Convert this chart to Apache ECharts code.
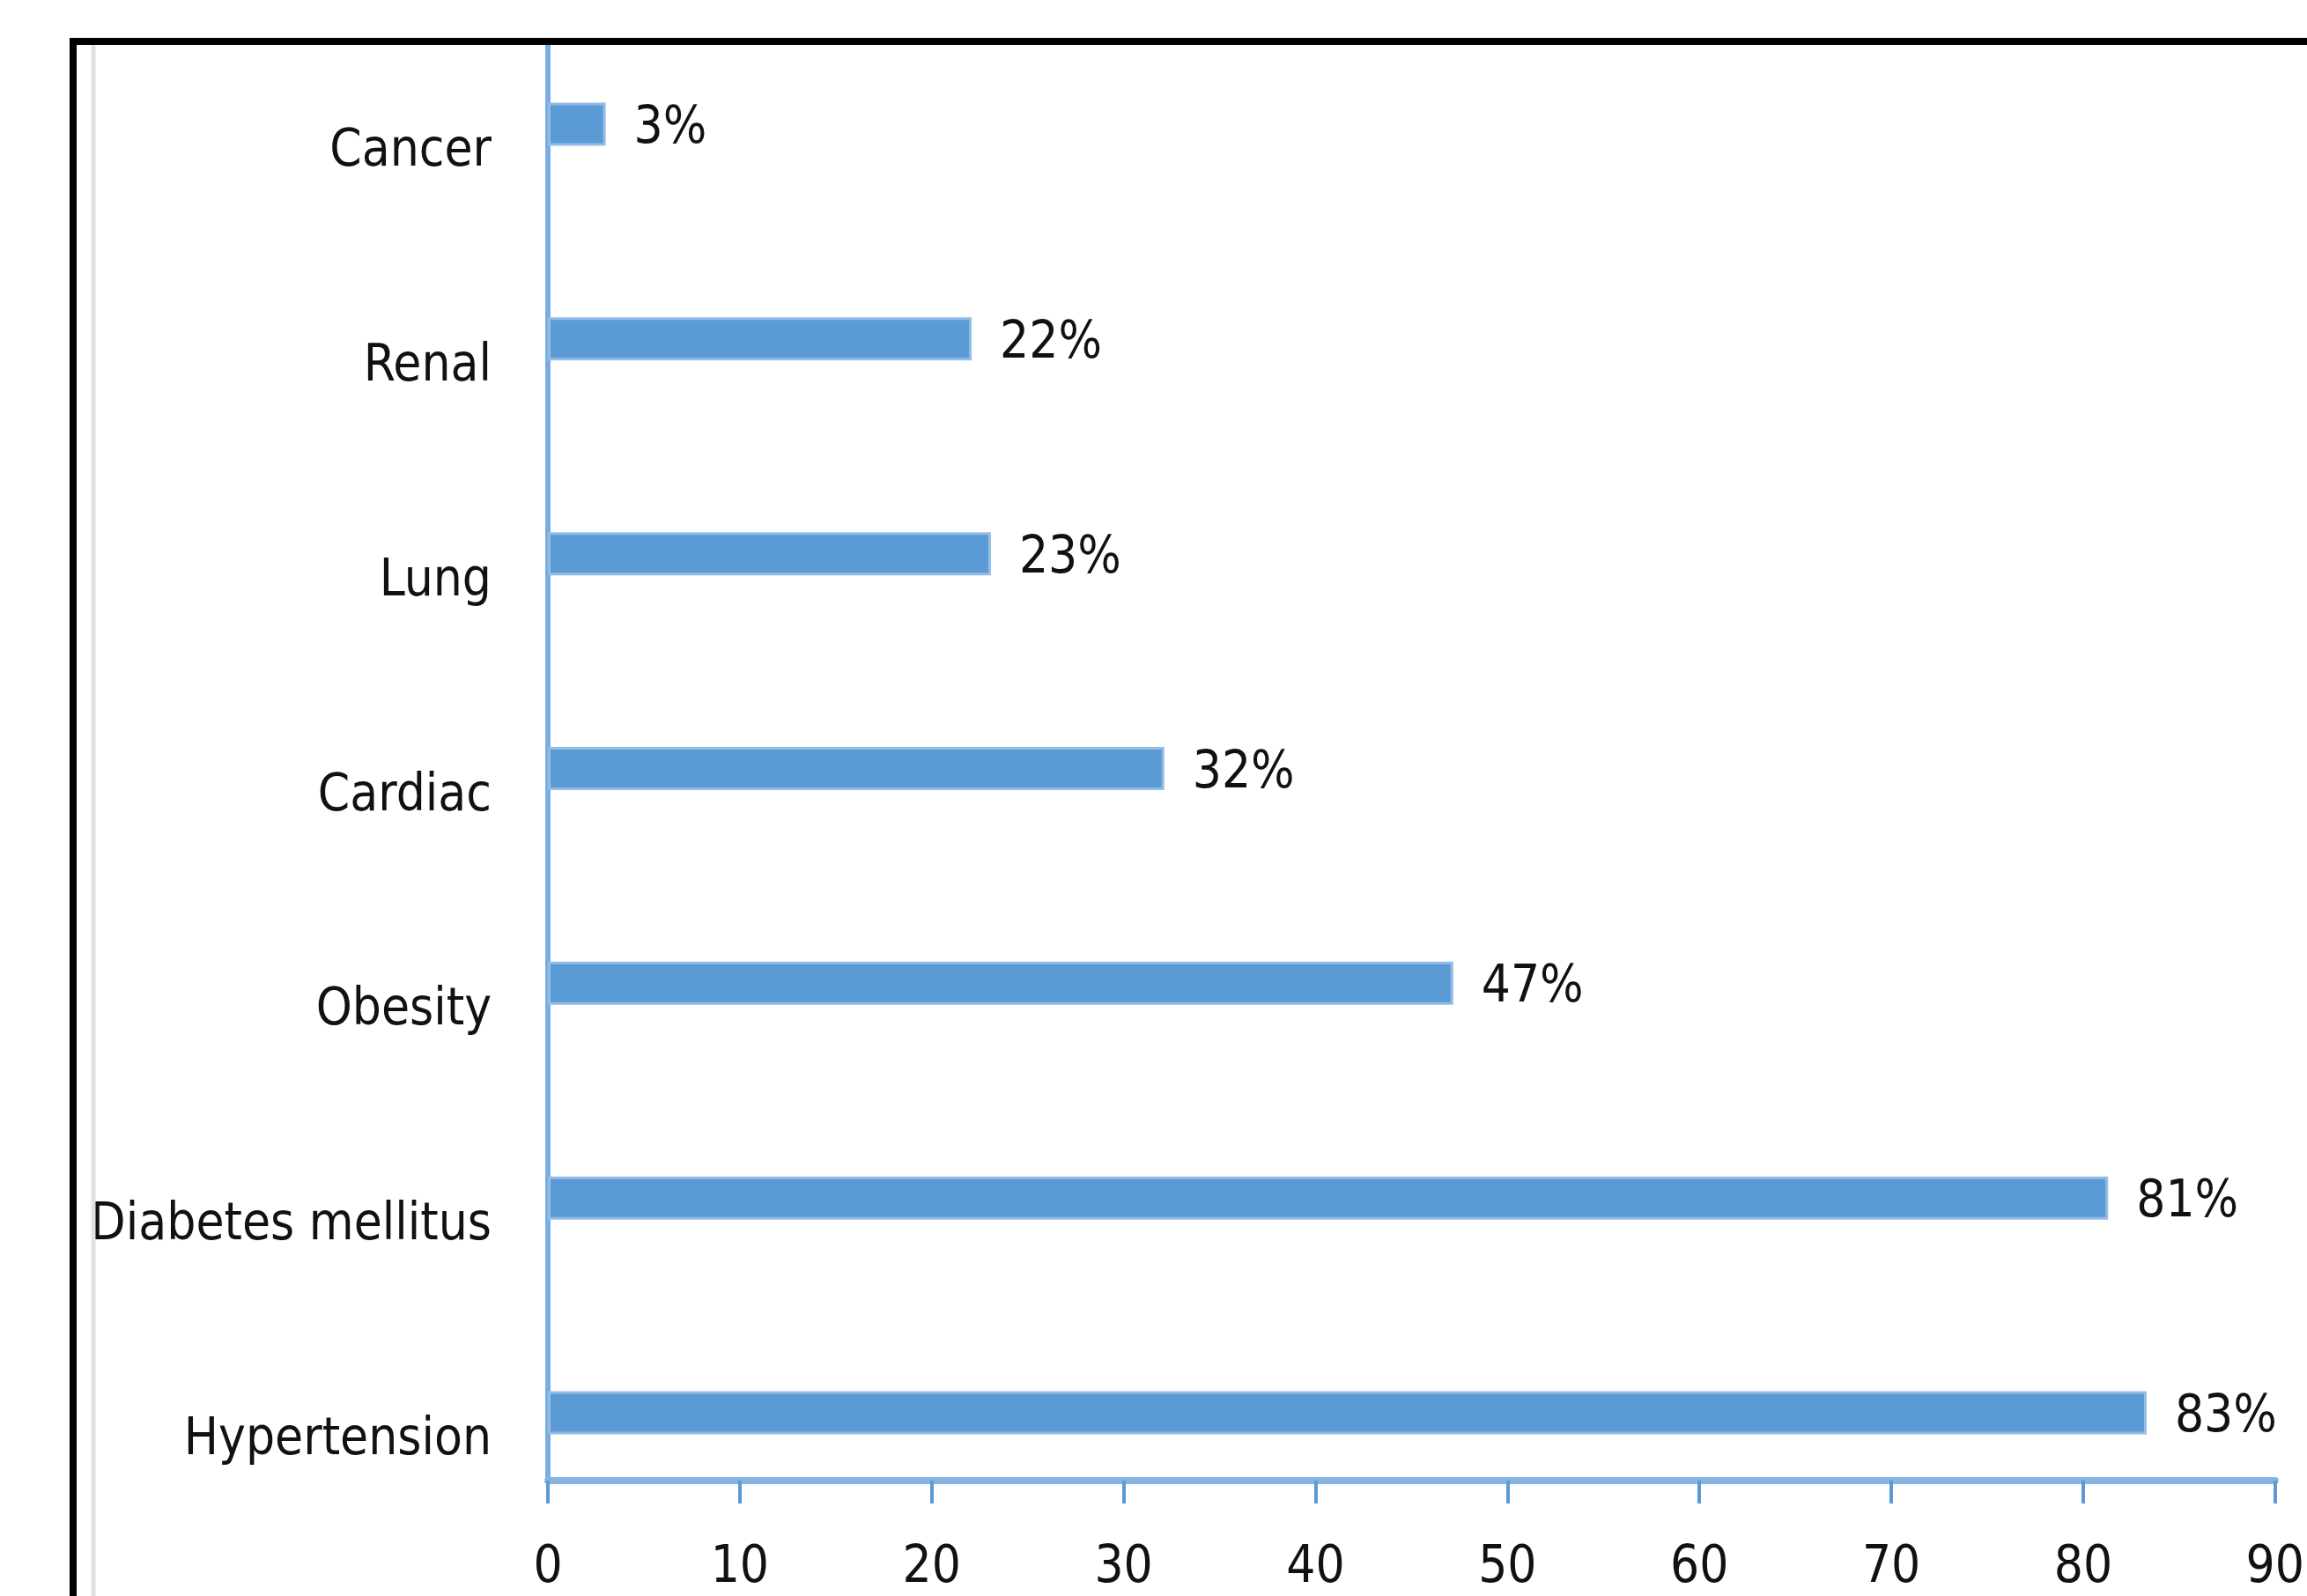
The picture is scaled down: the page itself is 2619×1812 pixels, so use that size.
<!DOCTYPE html>
<html>
<head>
<meta charset="utf-8">
<script src="https://cdn.jsdelivr.net/npm/echarts@6/dist/echarts.min.js"></script>
<style>
html,body{margin:0;padding:0;background:#fff;}
#chart{width:2619px;height:1812px;}
</style>
</head>
<body>
<div id="chart"></div>
<script>
// Data (bottom-to-top order as drawn on the category axis)
const categories = ['Hypertension', 'Diabetes mellitus', 'Obesity', 'Cardiac', 'Lung', 'Renal', 'Cancer'];
const values = [83, 81, 47, 32, 23, 22, 3];
const xTicks = { min: 0, max: 90, interval: 10 };

const FONT = "'Liberation Sans Narrow', 'DejaVu Sans Condensed', 'Liberation Sans', sans-serif";
const FS = 58;
const chart = echarts.init(document.getElementById('chart'), null, { renderer: 'canvas' });

const option = {
  backgroundColor: '#ffffff',
  animation: false,
  grid: [
    // grid 0: bars and category labels
    { left: 622, right: 29, top: 19, bottom: 86, containLabel: false },
    // grid 1: axis frame (axis lines, ticks, value labels)
    { left: 622, right: 29, top: 51, bottom: 131, containLabel: false }
  ],
  xAxis: [
    {
      gridIndex: 0, type: 'value', min: xTicks.min, max: xTicks.max, interval: xTicks.interval,
      show: false
    },
    {
      gridIndex: 1, type: 'value', min: xTicks.min, max: xTicks.max, interval: xTicks.interval,
      axisLine: { show: true, lineStyle: { color: '#86b4e0', width: 8 } },
      axisTick: { show: true, length: 26, lineStyle: { color: '#5b9bd5', width: 4 } },
      splitLine: { show: false },
      axisLabel: {
        color: '#111', fontFamily: FONT, fontSize: FS, margin: 100,
        verticalAlign: 'middle', lineHeight: FS
      }
    }
  ],
  yAxis: [
    {
      gridIndex: 0, type: 'category', data: categories,
      axisLine: { show: false }, axisTick: { show: false },
      axisLabel: {
        color: '#111', fontFamily: FONT, fontSize: FS, margin: 64,
        lineHeight: 64,
        formatter: function (v) { return '\n' + v; }
      }
    },
    {
      gridIndex: 1, type: 'value', min: 0, max: 1,
      axisLine: { show: true, lineStyle: { color: '#7aaee0', width: 6 } },
      axisTick: { show: false }, axisLabel: { show: false }, splitLine: { show: false }
    }
  ],
  series: [
    {
      type: 'bar',
      xAxisIndex: 0, yAxisIndex: 0,
      data: values,
      barWidth: 49,
      itemStyle: { color: '#5b9bd5', borderColor: '#93bde6', borderWidth: 3 },
      label: {
        show: true, position: 'right', distance: 32, offset: [0, 6],
        formatter: '{c}%', color: '#111', fontFamily: FONT, fontSize: FS
      },
      z: 3
    }
  ],
  graphic: [
    { type: 'line', shape: { x1: 106, y1: 51, x2: 106, y2: 1812 }, style: { stroke: '#e2e2e2', lineWidth: 5 }, z: 10 },
    { type: 'rect', shape: { x: 83, y: 47, width: 2700, height: 2000 }, style: { fill: null, stroke: '#000', lineWidth: 8 }, z: 11 }
  ]
};
chart.setOption(option);
</script>
</body>
</html>
